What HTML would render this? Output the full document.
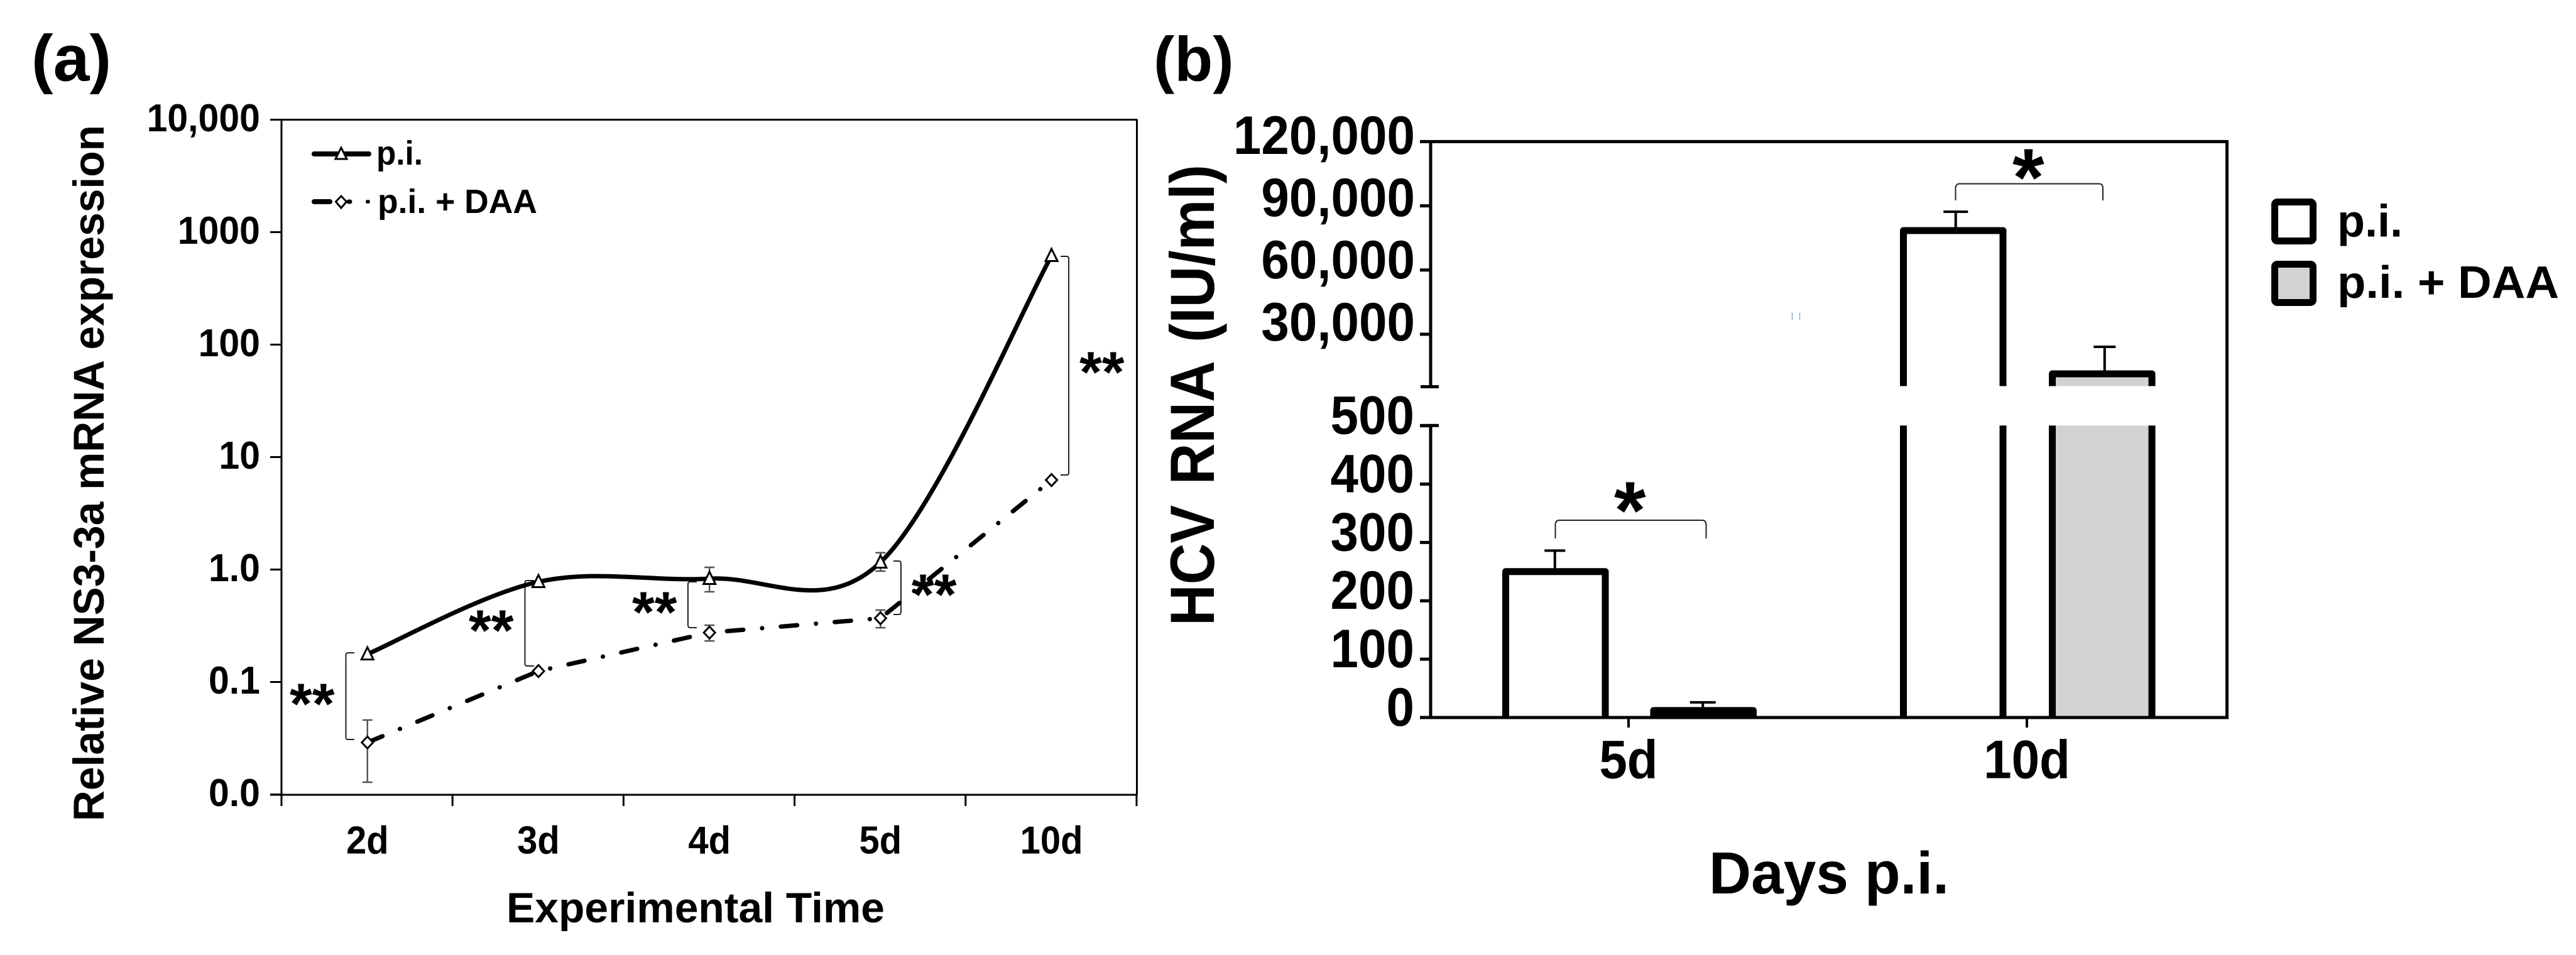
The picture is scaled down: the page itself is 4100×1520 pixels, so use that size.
<!DOCTYPE html>
<html lang="en">
<head>
<meta charset="utf-8">
<title>HCV NS3-3a expression and HCV RNA</title>
<style>
html,body{margin:0;padding:0;background:#fff;width:4100px;height:1520px;overflow:hidden}
svg{display:block}
text{font-family:"Liberation Sans",Arial,sans-serif;font-weight:bold;fill:#000}
</style>
</head>
<body>
<svg id="fig" xmlns="http://www.w3.org/2000/svg" width="4100" height="1520" viewBox="0 0 4100 1520">
  <rect width="4100" height="1520" fill="#fff"/>

  <g id="panelA">
    <text x="50" y="128.5" font-size="104">(a)</text>
    <text transform="translate(165,1307) rotate(-90)" font-size="69" textLength="1108" lengthAdjust="spacingAndGlyphs">Relative NS3-3a mRNA expression</text>
    <text x="806" y="1468" font-size="68" textLength="602" lengthAdjust="spacingAndGlyphs">Experimental Time</text>
    <line x1="448" y1="190" x2="448" y2="1283" stroke="#000" stroke-width="3"/>
    <line x1="430" y1="190.5" x2="1810" y2="190.5" stroke="#000" stroke-width="3"/>
    <line x1="1809.5" y1="190" x2="1809.5" y2="1265" stroke="#000" stroke-width="3"/>
    <line x1="430" y1="1265" x2="1810" y2="1265" stroke="#000" stroke-width="3"/>

    <g>
      <g>
        <line x1="500" y1="245" x2="587" y2="245" stroke="#000" stroke-width="8" stroke-linecap="round"/>
        <path d="M543,235 L552,253 L534,253 Z" fill="#fff" stroke="#000" stroke-width="3"/>
        <text x="599" y="262" font-size="54" textLength="74" lengthAdjust="spacingAndGlyphs">p.i.</text>
      </g>
      <g>
        <line x1="500" y1="321" x2="525" y2="321" stroke="#000" stroke-width="8" stroke-linecap="round"/>
        <line x1="555" y1="321" x2="557" y2="321" stroke="#000" stroke-width="7" stroke-linecap="round"/>
        <line x1="585" y1="321" x2="586" y2="321" stroke="#000" stroke-width="6" stroke-linecap="round"/>
        <path d="M543,312 L551.5,321 L543,331 L534.5,321 Z" fill="#fff" stroke="#000" stroke-width="3"/>
        <text x="601" y="339" font-size="54" textLength="254" lengthAdjust="spacingAndGlyphs">p.i. + DAA</text>
      </g>
    </g>

    <g fill="none" stroke="#222" stroke-width="2">
      <path d="M564,1039 L554,1039 Q550.5,1039 550.5,1043 L550.5,1173 Q550.5,1177 554,1177 L564,1177"/>
      <path d="M850,924 L839,924 Q835.5,924 835.5,928 L835.5,1056 Q835.5,1060 839,1060 L850,1060"/>
      <path d="M1109,926 L1098.5,926 Q1095,926 1095,930 L1095,995 Q1095,999 1098.5,999 L1109,999"/>
      <path d="M1422,893 L1430.5,893 Q1434,893 1434,897 L1434,974 Q1434,978 1430.5,978 L1422,978"/>
      <path d="M1688,408 L1697.5,408 Q1701,408 1701,412 L1701,752 Q1701,756 1697.5,756 L1688,756"/>
    </g>
    <g font-size="92">
      <text x="461" y="1152">**</text>
      <text x="746" y="1035">**</text>
      <text x="1006" y="1006">**</text>
      <text x="1451" y="978">**</text>
      <text x="1718" y="624">**</text>
    </g>
  </g>

  <g id="panelB">
    <text x="1836" y="128.5" font-size="100">(b)</text>
    <text transform="translate(1932,996) rotate(-90)" font-size="99" word-spacing="8" textLength="734" lengthAdjust="spacingAndGlyphs">HCV RNA (IU/ml)</text>
    <text x="2720" y="1422" font-size="95" textLength="382" lengthAdjust="spacingAndGlyphs">Days p.i.</text>

    <g>
      <g>
        <rect x="3620.5" y="321.5" width="61" height="62" rx="4" fill="#fff" stroke="#000" stroke-width="11"/>
        <text x="3720" y="376.5" font-size="72" textLength="104" lengthAdjust="spacingAndGlyphs">p.i.</text>
      </g>
      <g>
        <rect x="3620.5" y="420.5" width="61" height="61" rx="4" fill="#d2d2d2" stroke="#000" stroke-width="11"/>
        <text x="3720" y="474" font-size="72" textLength="353" lengthAdjust="spacingAndGlyphs">p.i. + DAA</text>
      </g>
    </g>

    <g fill="none" stroke="#222" stroke-width="2">
      <path d="M2475.5,857 L2475.5,836 Q2475.5,828 2482,828 L2709,828 Q2715.5,828 2715.5,836 L2715.5,857"/>
      <path d="M3112.5,319 L3112.5,300 Q3112.5,292.5 3119,292.5 L3341,292.5 Q3347,292.5 3347,300 L3347,319"/>
    </g>
    <text x="2569" y="857" font-size="130">*</text>
    <text x="3203" y="327" font-size="130">*</text>
    <g stroke="#7fa8d8" stroke-width="1.5" fill="none">
      <line x1="2852.5" y1="498" x2="2852.5" y2="509"/>
      <line x1="2864.5" y1="498" x2="2864.5" y2="509"/>
    </g>
  </g>
</svg>

<script>
// ---------- Panel (a) data ----------
var daysA = ["2d", "3d", "4d", "5d", "10d"];
var tickValuesA = [10000, 1000, 100, 10, 1, 0.1, 0.01];
var tickLabelsA = ["10,000", "1000", "100", "10", "1.0", "0.1", "0.0"];
var seriesPi = [0.177, 0.778, 0.83, 1.16, 617];
var seriesDaa = [0.029, 0.125, 0.275, 0.369, 6.25];
var errLowPi = [null, null, 0.634, 0.968, null];
var errHighPi = [null, null, 1.046, 1.41, null];
var errLowDaa = [0.01285, null, 0.232, 0.304, null];
var errHighDaa = [0.0459, null, 0.32, 0.436, null];

// ---------- Panel (b) data ----------
var daysB = ["5d", "10d"];
var upperTickValuesB = [120000, 90000, 60000, 30000];
var upperTickLabelsB = ["120,000", "90,000", "60,000", "30,000"];
var lowerTickValuesB = [500, 400, 300, 200, 100, 0];
var lowerTickLabelsB = ["500", "400", "300", "200", "100", "0"];
var barPi = [250, 78440];
var barDaa = [12, 11500];
var barErrPi = [286, 87240];
var barErrDaa = [26, 24130];

var NS = "http://www.w3.org/2000/svg";
function mk(tag, attrs, parent) {
  var e = document.createElementNS(NS, tag);
  for (var k in attrs) { e.setAttribute(k, attrs[k]); }
  parent.appendChild(e);
  return e;
}

// Natural bold width of a digit label, used to keep the tall, slightly condensed look.
function labelWidth(s, size) {
  var w = 0;
  for (var i = 0; i < s.length; i++) {
    var c = s.charAt(i);
    w += (c === "," || c === ".") ? 0.278 : (c === "d" ? 0.611 : 0.556);
  }
  return w * size;
}

// ---------- Panel (a) axes functions ----------
function xA(i) { return 448.7 + 272.2 * (i + 0.5); }
function yA(v) { return 906.5 - 179 * Math.log10(v); }

var panelA = document.getElementById("panelA");
var panelB = document.getElementById("panelB");

tickValuesA.forEach(function (v, i) {
  var t = mk("line", {x1: 430, x2: 448, y1: yA(v), y2: yA(v), stroke: "#000", "stroke-width": 3}, panelA);
  
  
  var l = mk("text", {x: 414, y: yA(v) + 18.5, "font-size": 62, "text-anchor": "end",
    textLength: labelWidth(tickLabelsA[i], 59), lengthAdjust: "spacingAndGlyphs"}, panelA);
  l.textContent = tickLabelsA[i];
  
  
});

for (var ti = 0; ti <= daysA.length; ti++) {
  var tx = 448 + 272.2 * ti;
  var xt = mk("line", {x1: tx, x2: tx, y1: 1265, y2: 1283, stroke: "#000", "stroke-width": 3}, panelA);
  
  
}

daysA.forEach(function (d, i) {
  var l = mk("text", {x: xA(i), y: 1358.5, "font-size": 62, "text-anchor": "middle",
    textLength: labelWidth(d, 58), lengthAdjust: "spacingAndGlyphs"}, panelA);
  l.textContent = d;
  
  
});

function smoothPath(values) {
  var p = values.map(function (v, i) { return [xA(i), yA(v)]; });
  var d = "M" + p[0][0] + "," + p[0][1];
  for (var i = 0; i < p.length - 1; i++) {
    var p0 = p[Math.max(i - 1, 0)], p1 = p[i], p2 = p[i + 1], p3 = p[Math.min(i + 2, p.length - 1)];
    d += " C" + (p1[0] + (p2[0] - p0[0]) / 6) + "," + (p1[1] + (p2[1] - p0[1]) / 6) +
         " " + (p2[0] - (p3[0] - p1[0]) / 6) + "," + (p2[1] - (p3[1] - p1[1]) / 6) +
         " " + p2[0] + "," + p2[1];
  }
  return d;
}

function straightPath(values) {
  return values.map(function (v, i) { return (i ? "L" : "M") + xA(i) + "," + yA(v); }).join(" ");
}

function drawErrors(lows, highs) {
  lows.forEach(function (lo, i) {
    if (lo === null) { return; }
    var x = xA(i), a = yA(lo), b = yA(highs[i]);
    var d = "M" + x + "," + a + " L" + x + "," + b +
            " M" + (x - 8) + "," + a + " L" + (x + 8) + "," + a +
            " M" + (x - 8) + "," + b + " L" + (x + 8) + "," + b;
    var e = mk("path", {d: d, fill: "none", stroke: "#555", "stroke-width": 2.5}, panelA);
    
    
  });
}

drawErrors(errLowPi, errHighPi);
drawErrors(errLowDaa, errHighDaa);

var linePi = mk("path", {d: smoothPath(seriesPi), fill: "none", stroke: "#000", "stroke-width": 7}, panelA);



var lineDaa = mk("path", {d: straightPath(seriesDaa), fill: "none", stroke: "#000", "stroke-width": 7,
  "stroke-linecap": "round", "stroke-dasharray": "26 30 0.1 29.9"}, panelA);



seriesPi.forEach(function (v, i) {
  var x = xA(i), y = yA(v);
  var m = mk("path", {d: "M" + x + "," + (y - 11) + " L" + (x + 9.5) + "," + (y + 8.5) + " L" + (x - 9.5) + "," + (y + 8.5) + " Z",
    fill: "#fff", stroke: "#000", "stroke-width": 3}, panelA);
  
  
});

seriesDaa.forEach(function (v, i) {
  var x = xA(i), y = yA(v);
  var m = mk("path", {d: "M" + x + "," + (y - 9.5) + " L" + (x + 9) + "," + y + " L" + x + "," + (y + 9.5) + " L" + (x - 9) + "," + y + " Z",
    fill: "#fff", stroke: "#000", "stroke-width": 3}, panelA);
  
  
});

// ---------- Panel (b) axes functions ----------
var BREAK_TOP = 614.5, BREAK_BOTTOM = 677.3;
function yB(v) {
  return v <= 500 ? 1142 - v * 0.9288 : 532 - (v - 30000) / 30000 * 102.2;
}
function labelYUpper(v) { return 245 + (120000 - v) / 30000 * 99; }
function groupX(i) { return 2592 + 634 * i; }
function barLeft(i, s) {
  return groupX(i) + (s === 0 ? (i === 0 ? -195.5 : -196.5) : (i === 0 ? 40 : 40.5));
}
var BAR_W = 158.5;

function drawBar(i, s, v, hi, fill) {
  var x = barLeft(i, s), y = yB(v);
  var squat = (1142 - y) < 20;
  var b = mk("path", {d: "M" + x + "," + 1142 + " L" + x + "," + y + " L" + (x + BAR_W) + "," + y + " L" + (x + BAR_W) + "," + 1142,
    fill: squat ? "#000" : fill, stroke: "#000", "stroke-width": 11, "stroke-linejoin": "round"}, panelB);
  
  
  var cx = x + BAR_W / 2 + (i === 1 ? 4 : -1);
  var halfCap = s === 0 ? (i === 0 ? 16.5 : 19.5) : (i === 0 ? 20.5 : 17.5);
  var ey = yB(hi);
  var e = mk("path", {d: "M" + cx + "," + y + " L" + cx + "," + ey + " M" + (cx - halfCap) + "," + ey + " L" + (cx + halfCap) + "," + ey,
    fill: "none", stroke: "#000", "stroke-width": 4}, panelB);
  
  
}

daysB.forEach(function (d, i) {
  drawBar(i, 0, barPi[i], barErrPi[i], "#fff");
  drawBar(i, 1, barDaa[i], barErrDaa[i], "#d2d2d2");
});

var gap = mk("rect", {x: 2300, y: BREAK_TOP, width: 1230, height: BREAK_BOTTOM - BREAK_TOP, fill: "#fff"}, panelB);



var frame = mk("path", {d: "M2277," + yB(120000) + " L3544.5," + yB(120000) + " L3544.5," + yB(0) + " L2260," + yB(0),
  fill: "none", stroke: "#000", "stroke-width": 5}, panelB);



var axisUpper = mk("line", {x1: 2277, x2: 2277, y1: 223, y2: 615.5, stroke: "#000", "stroke-width": 5}, panelB);



var capUpper = mk("line", {x1: 2261, x2: 2290, y1: 615.5, y2: 615.5, stroke: "#000", "stroke-width": 5}, panelB);



var axisLower = mk("line", {x1: 2277, x2: 2277, y1: BREAK_BOTTOM, y2: 1144, stroke: "#000", "stroke-width": 5}, panelB);



var capLower = mk("line", {x1: 2261, x2: 2290, y1: BREAK_BOTTOM, y2: BREAK_BOTTOM, stroke: "#000", "stroke-width": 5}, panelB);



upperTickValuesB.forEach(function (v, i) {
  var t = mk("line", {x1: 2260, x2: 2277, y1: yB(v), y2: yB(v), stroke: "#000", "stroke-width": 5}, panelB);
  
  
  var l = mk("text", {x: 2252, y: labelYUpper(v), "font-size": 86, "text-anchor": "end",
    textLength: labelWidth(upperTickLabelsB[i], 80), lengthAdjust: "spacingAndGlyphs"}, panelB);
  l.textContent = upperTickLabelsB[i];
  
  
});

lowerTickValuesB.forEach(function (v, i) {
  var t = mk("line", {x1: 2260, x2: 2277, y1: yB(v), y2: yB(v), stroke: "#000", "stroke-width": 5}, panelB);
  
  
  var l = mk("text", {x: 2251, y: yB(v) + 13, "font-size": 86, "text-anchor": "end",
    textLength: labelWidth(lowerTickLabelsB[i], 80), lengthAdjust: "spacingAndGlyphs"}, panelB);
  l.textContent = lowerTickLabelsB[i];
  
  
});

daysB.forEach(function (d, i) {
  var x = groupX(i);
  var t = mk("line", {x1: x, x2: x, y1: 1142, y2: 1158, stroke: "#000", "stroke-width": 4}, panelB);
  
  
  var l = mk("text", {x: x, y: 1238.5, "font-size": 86, "text-anchor": "middle",
    textLength: labelWidth(d, 80), lengthAdjust: "spacingAndGlyphs"}, panelB);
  l.textContent = d;
  
  
});
</script>
</body>
</html>
